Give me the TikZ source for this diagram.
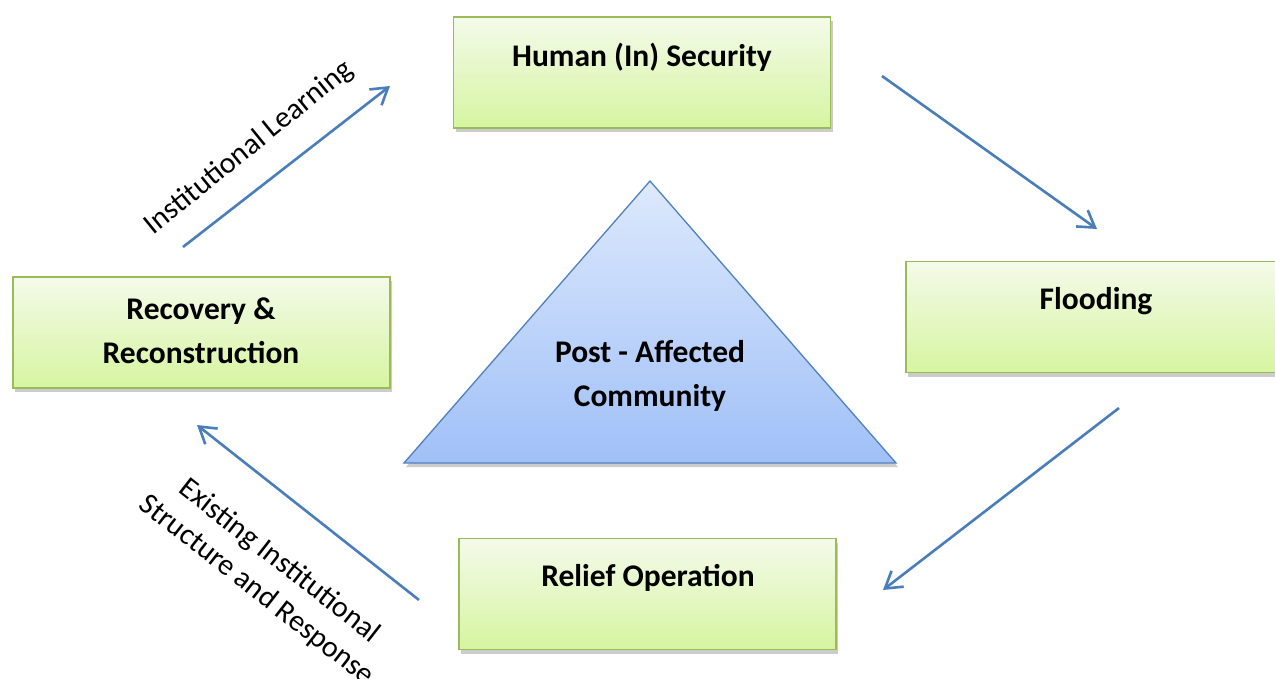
\documentclass[tikz,border=0pt]{standalone}
\usepackage{fontspec}
\setmainfont{Carlito}
\usetikzlibrary{arrows.meta,shadows}
\definecolor{boxborder}{HTML}{9BBB59}
\definecolor{boxtop}{HTML}{F4FAEA}
\definecolor{boxbottom}{HTML}{D6F5A0}
\definecolor{tritop}{HTML}{DDE9FD}
\definecolor{tribottom}{HTML}{A0C0F7}
\definecolor{triborder}{HTML}{4F81BD}
\definecolor{arrowblue}{HTML}{4A7EBB}
\tikzset{
  boxnode/.style={draw=boxborder, line width=1.3pt, top color=boxtop, bottom color=boxbottom,
    minimum width=377pt, minimum height=111pt, inner sep=0pt,
    drop shadow={opacity=0.4, shadow xshift=2pt, shadow yshift=-4pt}},
  boxtext/.style={font=\fontsize{31.5}{44}\selectfont\bfseries, align=center, inner sep=0pt},
  flowarrow/.style={draw=arrowblue, line width=2.6pt, -{Straight Barb[length=16pt,width=20pt]}},
  labeltext/.style={font=\fontsize{30}{37}\selectfont, align=center, inner sep=0pt}
}
\begin{document}
\begin{tikzpicture}[x=1pt,y=-1pt]
\clip (0,0) rectangle (1275,679);
\path[fill=white] (0,0) rectangle (1275,679);
% boxes
\node[boxnode] (human) at (642,72.5) {};
\node[boxtext] (humant) at (642,57) {Human (In) Security};
\node[boxnode, minimum width=400pt] (flood) at (1106,317) {};
\node[boxtext] (floodt) at (1096,301) {Flooding};
\node[boxnode] (recov) at (201.5,332.5) {};
\node[boxtext] (recovt) at (201,331) {Recovery \&\\Reconstruction};
\node[boxnode] (relief) at (647.5,594) {};
\node[boxtext] (relieft) at (648,578) {Relief Operation};
% triangle
\coordinate (apex) at (650,181);
\coordinate (bl) at (404,463);
\coordinate (br) at (896,463);
\path[draw=triborder, line width=1.3pt, top color=tritop, bottom color=tribottom,
  drop shadow={opacity=0.4, shadow xshift=2pt, shadow yshift=-4pt}]
  (apex) -- (br) -- (bl) -- cycle;
\node[boxtext] (post) at (650,376) {Post - Affected\\Community};
% arrows
\coordinate (a1s) at (183,247);
\coordinate (a1e) at (390,86);
\coordinate (a2s) at (882,76);
\coordinate (a2e) at (1097,229);
\coordinate (a3s) at (1119,408);
\coordinate (a3e) at (883,590);
\coordinate (a4s) at (419,600);
\coordinate (a4e) at (197,425);
\draw[flowarrow] (a1s) -- (a1e);
\draw[flowarrow] (a2s) -- (a2e);
\draw[flowarrow] (a3s) -- (a3e);
\draw[flowarrow] (a4s) -- (a4e);
% labels
\node[labeltext, rotate=39] (learn) at (249,148) {Institutional Learning};
\node[labeltext, rotate=-38] (exist) at (268,576) {Existing Institutional\\Structure and Response};
\end{tikzpicture}
\end{document}
